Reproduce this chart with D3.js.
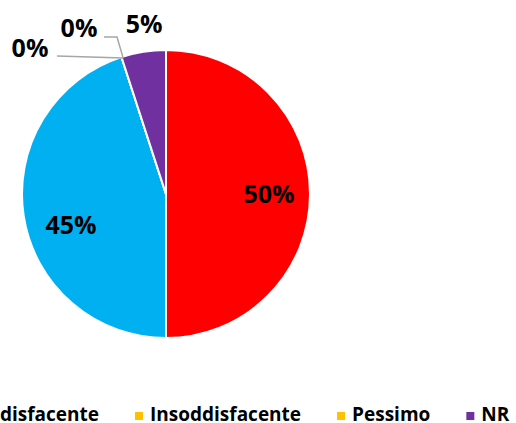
<!DOCTYPE html>
<html><head><meta charset="utf-8">
<script src="https://cdn.jsdelivr.net/npm/d3@7"></script>
<style>html,body{margin:0;padding:0;background:#fff;overflow:hidden}</style>
</head><body>
<svg id="c" width="516" height="423"></svg>
<script>
const categories = ["Ottimo", "Soddisfacente", "Insoddisfacente", "Pessimo", "NR"];
const values = [50, 45, 0, 0, 5];
const labels = ["50%", "45%", "0%", "0%", "5%"];
const colors = ["#FF0000", "#00B0F0", "#FFC000", "#FFC000", "#7030A0"];

const svg = d3.select("#c");
const cx = 166, cy = 194, r = 144;
const font = "'Open Sans', sans-serif";
const g = svg.append("g").attr("transform", `translate(${cx},${cy})`);

const data = categories.map((c, i) => ({cat: c, value: values[i], label: labels[i], color: colors[i]}));
const pie = d3.pie().value(d => d.value).sort(null);
const arcs = pie(data);
const arc = d3.arc().innerRadius(0).outerRadius(r);

g.selectAll("path").data(arcs).join("path")
  .attr("d", arc).attr("fill", d => d.data.color)
  .attr("stroke", "#fff").attr("stroke-width", 2).attr("stroke-linejoin", "round");

function pt(a, rad) { return [Math.sin(a) * rad, -Math.cos(a) * rad]; }

// inside labels
const inside = [
  {i: 0, rad: 103, da: 0},
  {i: 1, rad: 100, da: -0.16}
];
inside.forEach(o => {
  const a = arcs[o.i];
  const m = (a.startAngle + a.endAngle) / 2 + o.da;
  const p = pt(m, o.rad);
  g.append("text").attr("x", p[0]).attr("y", p[1]).attr("dy", "0.36em")
    .attr("text-anchor", "middle").attr("font-family", font).attr("font-weight", 700)
    .attr("font-size", 25).attr("fill", "#000").text(a.data.label);
});

// zero-slice labels with leader lines
const anchor = pt(arcs[2].startAngle, r + 1);
const ax = anchor[0] + 2, ay = anchor[1] + 2;
const lineCol = "#A6A6A6";
// left 0%
g.append("path").attr("d", `M${ax},${ay} L${57 - cx},${56 - cy}`)
  .attr("stroke", lineCol).attr("stroke-width", 1.5).attr("fill", "none");
g.append("text").attr("x", 30 - cx).attr("y", 47.5 - cy).attr("dy", "0.36em")
  .attr("text-anchor", "middle").attr("font-family", font).attr("font-weight", 700)
  .attr("font-size", 25).text(arcs[2].data.label);
// upper 0%
g.append("path").attr("d", `M${ax},${ay} L${117 - cx},${37 - cy} L${104 - cx},${37 - cy}`)
  .attr("stroke", lineCol).attr("stroke-width", 1.5).attr("fill", "none");
g.append("text").attr("x", 79 - cx).attr("y", 27.5 - cy).attr("dy", "0.36em")
  .attr("text-anchor", "middle").attr("font-family", font).attr("font-weight", 700)
  .attr("font-size", 25).text(arcs[3].data.label);
// 5% outside
{
  const a = arcs[4];
  const m = (a.startAngle + a.endAngle) / 2;
  const p = pt(m, 172);
  g.append("text").attr("x", p[0] + 5).attr("y", p[1]).attr("dy", "0.36em")
    .attr("text-anchor", "middle").attr("font-family", font).attr("font-weight", 700)
    .attr("font-size", 25).text(a.data.label);
}

// legend
const leg = svg.append("g");
const items = leg.selectAll("g").data(data).join("g");
items.append("rect").attr("width", 8).attr("height", 8).attr("y", 412).attr("fill", d => d.color);
items.append("text").attr("x", 15).attr("y", 421).attr("font-family", font)
  .attr("font-weight", 700).attr("font-size", 19).attr("fill", "#000").text(d => d.cat);
let x = 0; const xs = [];
items.each(function() {
  xs.push(x);
  const w = d3.select(this).select("text").node().getComputedTextLength();
  x += 15 + w + 36;
});
const shift = 135 - xs[2];
items.attr("transform", (d, i) => `translate(${xs[i] + shift},0)`);
</script>
</body></html>
